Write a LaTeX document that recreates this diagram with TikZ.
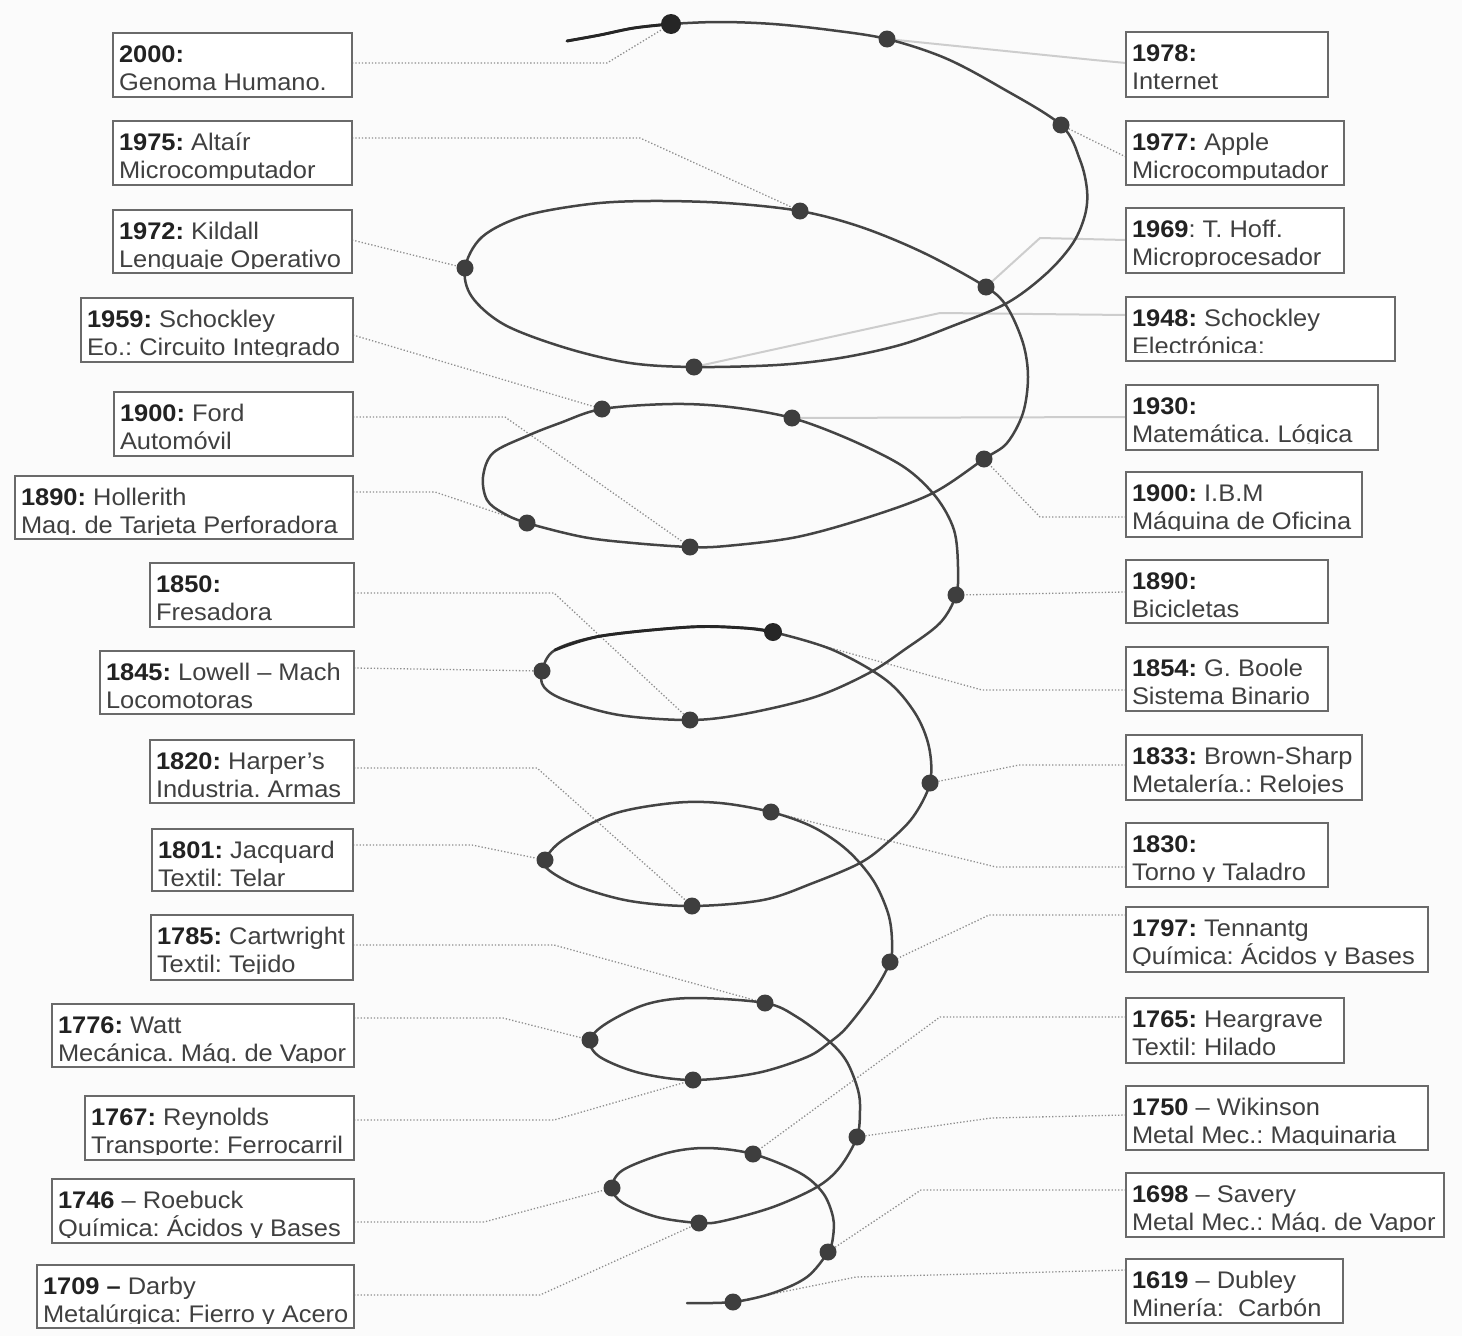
\documentclass[tikz,border=0pt]{standalone}
\usepackage{fontspec}
\setmainfont{Liberation Sans}[FakeStretch=1.06]

\definecolor{bgc}{HTML}{FBFBFB}
\definecolor{inkline}{HTML}{444444}
\definecolor{inkdark}{HTML}{262626}
\definecolor{inkdot}{HTML}{3E3E3E}
\definecolor{frameg}{HTML}{6A6A6A}
\definecolor{leadg}{HTML}{8E8E8E}
\definecolor{leadlt}{HTML}{CDCDCD}
\definecolor{yearc}{HTML}{222222}
\definecolor{textc}{HTML}{404040}

\pgfdeclarelayer{bg}
\pgfsetlayers{bg,main}

\tikzset{
  evframe/.style={draw=frameg, line width=1.8pt, inner sep=0pt, outer sep=0pt, fill=white},
  evtext/.style={inner sep=0pt, outer sep=0pt, text=textc, font=\fontsize{24}{28}\selectfont\frenchspacing},
  spiral/.style={draw=inkline, line width=2.5pt, line join=round, line cap=round},
  spiraldark/.style={draw=inkdark, line width=2.9pt, line join=round, line cap=round},
  knot/.style={circle, fill=inkdot, inner sep=0pt, outer sep=0pt, minimum size=17pt},
  bigknot/.style={knot, fill=inkdark, minimum size=20pt},
  leaddot/.style={draw=leadg, line width=1.3pt, dash pattern=on 1.3pt off 2pt},
  leadsoft/.style={draw=leadlt, line width=2pt},
}

% bold year in dark ink
\newcommand\evyr[1]{{\bfseries\color{yearc}#1}}

% event box: [clip depth]{name}{x1}{y1}{x2}{y2}{first line}{second line}
\newcommand\evbox[8][58]{%
  \node[evframe, minimum width={(#5-#3)*1pt}, minimum height={(#6-#4)*1pt}, anchor=north west] (#2) at (#3,#4) {};
  \begin{scope}
    \clip (#3,#4) rectangle (#5,#4+#1);
    \node[evtext, anchor=base west] (#2a) at (#3+6,#4+29) {#7};
    \node[evtext, anchor=base west] (#2b) at (#3+6,#4+57) {#8};
  \end{scope}
}

\begin{document}
\begin{tikzpicture}[x=1pt,y=-1pt]
\useasboundingbox (0,0) rectangle (1462,1336);
\begin{pgfonlayer}{bg}
  \fill[bgc] (0,0) rectangle (1462,1336);
\end{pgfonlayer}

% the helix of inventions
\draw[spiral] plot[smooth, tension=0.55] coordinates {
  (567,41) (600,35) (634,28) (671,24) (720,22) (773,24) (830,30) (887,39)
  (945,58) (1000,87) (1061,125) (1080,160) (1087,190) (1085,215) (1073,243)
  (1047,273) (1007,303) (950,327) (900,345) (840,358) (777,365) (694,367)
  (630,363) (566,348) (505,325) (472,297) (465,268) (482,237) (524,216)
  (590,204) (650,201) (726,203) (800,211) (861,227) (924,253) (986,287)
  (1007,307) (1023,343) (1028,377) (1023,413) (1007,443) (984,459) (933,493)
  (869,517) (797,537) (726,546) (690,547) (633,543) (583,537) (527,523)
  (503,513) (487,500) (483,477) (493,453) (527,436) (560,423) (602,409)
  (672,404) (730,407) (792,418) (851,440) (904,467) (936,497) (954,530)
  (958,567) (956,595) (940,623) (904,650) (869,673) (815,697) (744,714)
  (690,720) (619,715) (565,700) (544,687) (542,671) (555,650) (601,636)
  (690,627) (744,628) (773,632) (833,650) (886,680) (915,713) (929,747)
  (930,783) (913,817) (887,843) (860,863) (813,883) (763,900) (692,906)
  (630,901) (580,887) (550,871) (545,860) (563,840) (613,814) (673,803)
  (720,803) (771,812) (813,827) (847,850) (873,880) (888,913) (892,940)
  (890,962) (873,993) (847,1027) (830,1042) (807,1057) (757,1073) (693,1080)
  (640,1073) (600,1057) (590,1040) (607,1023) (647,1004) (693,998) (765,1003)
  (797,1017) (830,1042) (847,1062) (858,1090) (860,1110) (857,1137) (840,1167)
  (817,1187) (773,1207) (723,1221) (699,1223) (657,1217) (623,1203) (612,1188)
  (623,1170) (667,1153) (707,1148) (753,1154) (800,1173) (823,1193) (833,1217)
  (833,1237) (828,1252) (807,1277) (773,1293) (733,1302) (687,1303)};
\draw[spiraldark] plot[smooth, tension=0.55] coordinates {(567,41) (600,35) (634,28) (671,24)};
\draw[spiraldark] plot[smooth, tension=0.55] coordinates {(555,650) (601,636) (690,627) (744,628) (773,632)};

% milestones on the helix
\node[bigknot] (d1) at (671,24) {};
\node[knot] (d2) at (887,39) {};
\node[knot] (d3) at (1061,125) {};
\node[knot] (d4) at (800,211) {};
\node[knot] (d5) at (465,268) {};
\node[knot] (d6) at (986,287) {};
\node[knot] (d7) at (694,367) {};
\node[knot] (d8) at (602,409) {};
\node[knot] (d9) at (792,418) {};
\node[knot] (d10) at (984,459) {};
\node[knot] (d11) at (527,523) {};
\node[knot] (d12) at (690,547) {};
\node[knot] (d13) at (956,595) {};
\node[bigknot, minimum size=18pt] (d14) at (773,632) {};
\node[knot] (d15) at (542,671) {};
\node[knot] (d16) at (690,720) {};
\node[knot] (d17) at (930,783) {};
\node[knot] (d18) at (771,812) {};
\node[knot] (d19) at (545,860) {};
\node[knot] (d20) at (692,906) {};
\node[knot] (d21) at (890,962) {};
\node[knot] (d22) at (765,1003) {};
\node[knot] (d23) at (590,1040) {};
\node[knot] (d24) at (693,1080) {};
\node[knot] (d25) at (857,1137) {};
\node[knot] (d26) at (753,1154) {};
\node[knot] (d27) at (612,1188) {};
\node[knot] (d28) at (699,1223) {};
\node[knot] (d29) at (828,1252) {};
\node[knot] (d30) at (733,1302) {};

% left column
\evbox{bL1}{113}{33}{352}{97}{\evyr{2000:}}{Genoma Humano.}
\evbox{bL2}{113}{121}{352}{185}{\evyr{1975:} Altaír}{Microcomputador}
\evbox{bL3}{113}{210}{352}{273}{\evyr{1972:} Kildall}{Lenguaje Operativo}
\evbox{bL4}{81}{298}{353}{362}{\evyr{1959:} Schockley}{Eo.: Circuito Integrado}
\evbox{bL5}{114}{392}{353}{456}{\evyr{1900:} Ford}{Automóvil}
\evbox{bL6}{15}{476}{353}{539}{\evyr{1890:} Hollerith}{Maq. de Tarjeta Perforadora}
\evbox{bL7}{150}{563}{354}{627}{\evyr{1850:}}{Fresadora}
\evbox{bL8}{100}{651}{354}{714}{\evyr{1845:} Lowell -- Mach}{Locomotoras}
\evbox{bL9}{150}{740}{354}{803}{\evyr{1820:} Harper's}{Industria. Armas}
\evbox{bL10}{152}{829}{353}{891}{\evyr{1801:} Jacquard}{Textil: Telar}
\evbox{bL11}{151}{915}{353}{980}{\evyr{1785:} Cartwright}{Textil: Tejido}
\evbox{bL12}{52}{1004}{354}{1067}{\evyr{1776:} Watt}{Mecánica. Máq. de Vapor}
\evbox{bL13}{85}{1096}{354}{1160}{\evyr{1767:} Reynolds}{Transporte: Ferrocarril}
\evbox{bL14}{52}{1179}{354}{1243}{\evyr{1746} -- Roebuck}{Química: Ácidos y Bases}
\evbox{bL15}{37}{1265}{354}{1328}{\evyr{1709 --} Darby}{Metalúrgica: Fierro y Acero}

% right column
\evbox{bR1}{1126}{32}{1328}{97}{\evyr{1978:}}{Internet}
\evbox{bR2}{1126}{121}{1344}{185}{\evyr{1977:} Apple}{Microcomputador}
\evbox{bR3}{1126}{208}{1344}{273}{\evyr{1969}: T. Hoff.}{Microprocesador}
\evbox[55]{bR4}{1126}{297}{1395}{361}{\evyr{1948:} Schockley}{Electrónica:}
\evbox{bR5}{1126}{385}{1378}{450}{\evyr{1930:}}{Matemática. Lógica}
\evbox{bR6}{1126}{472}{1362}{537}{\evyr{1900:} I.B.M}{Máquina de Oficina}
\evbox{bR7}{1126}{560}{1328}{623}{\evyr{1890:}}{Bicicletas}
\evbox{bR8}{1126}{647}{1328}{711}{\evyr{1854:} G. Boole}{Sistema Binario}
\evbox{bR9}{1126}{735}{1362}{800}{\evyr{1833:} Brown-Sharp}{Metalería.: Relojes}
\evbox{bR10}{1126}{823}{1328}{887}{\evyr{1830:}}{Torno y Taladro}
\evbox{bR11}{1126}{907}{1428}{972}{\evyr{1797:} Tennantg}{Química: Ácidos y Bases}
\evbox{bR12}{1126}{998}{1344}{1063}{\evyr{1765:} Heargrave}{Textil: Hilado}
\evbox{bR13}{1126}{1086}{1428}{1150}{\evyr{1750} -- Wikinson}{Metal Mec.: Maquinaria}
\evbox{bR14}{1126}{1173}{1444}{1237}{\evyr{1698} -- Savery}{Metal Mec.: Máq. de Vapor}
\evbox{bR15}{1126}{1259}{1343}{1323}{\evyr{1619} -- Dubley}{Minería:\ \ Carbón}

% leader lines from the boxes to their milestones
\begin{pgfonlayer}{bg}
\draw[leaddot] ([yshift=2pt]bL1.east) -- (607,63) -- (d1);
\draw[leaddot] ([yshift=15pt]bL2.east) -- (640,138) -- (d4);
\draw[leaddot] ([yshift=1.5pt]bL3.east) -- (d5);
\draw[leaddot] ([yshift=-5pt]bL4.east) -- (d8);
\draw[leaddot] ([yshift=7pt]bL5.east) -- (505,417) -- (d12);
\draw[leaddot] ([yshift=15.5pt]bL6.east) -- (435,492) -- (d11);
\draw[leaddot] ([yshift=2pt]bL7.east) -- (554,593) -- (d16);
\draw[leaddot] ([yshift=14.5pt]bL8.east) -- (d15);
\draw[leaddot] ([yshift=3.5pt]bL9.east) -- (537,768) -- (d20);
\draw[leaddot] ([yshift=15pt]bL10.east) -- (472,845) -- (d19);
\draw[leaddot] ([yshift=2.5pt]bL11.east) -- (554,945) -- (d22);
\draw[leaddot] ([yshift=17.5pt]bL12.east) -- (503,1018) -- (d23);
\draw[leaddot] ([yshift=8pt]bL13.east) -- (554,1120) -- (d24);
\draw[leaddot] ([yshift=-11pt]bL14.east) -- (484,1222) -- (d27);
\draw[leaddot] ([yshift=1.5pt]bL15.east) -- (540,1295) -- (d28);

\draw[leadsoft] ([yshift=1.5pt]bR1.west) -- (1094,60) -- (d2);
\draw[leaddot] ([yshift=-4pt]bR2.west) -- (d3);
\draw[leadsoft] ([yshift=0.5pt]bR3.west) -- (1040,238) -- (d6);
\draw[leadsoft] ([yshift=14pt]bR4.west) -- (940,313) -- (d7);
\draw[leadsoft] ([yshift=0.5pt]bR5.west) -- (d9);
\draw[leaddot] ([yshift=-12.5pt]bR6.west) -- (1040,517) -- (d10);
\draw[leaddot] ([yshift=-0.5pt]bR7.west) -- (d13);
\draw[leaddot] ([yshift=-11pt]bR8.west) -- (982,690) -- (d14);
\draw[leaddot] ([yshift=2.5pt]bR9.west) -- (1019,765) -- (d17);
\draw[leaddot] ([yshift=-12pt]bR10.west) -- (996,867) -- (d18);
\draw[leaddot] ([yshift=24.5pt]bR11.west) -- (989,915) -- (d21);
\draw[leaddot] ([yshift=13.5pt]bR12.west) -- (940,1017) -- (d26);
\draw[leaddot] ([yshift=3pt]bR13.west) -- (991,1118) -- (d25);
\draw[leaddot] ([yshift=15pt]bR14.west) -- (921,1190) -- (d29);
\draw[leaddot] ([yshift=21pt]bR15.west) -- (856,1277) -- (d30);
\end{pgfonlayer}
\end{tikzpicture}
\end{document}
